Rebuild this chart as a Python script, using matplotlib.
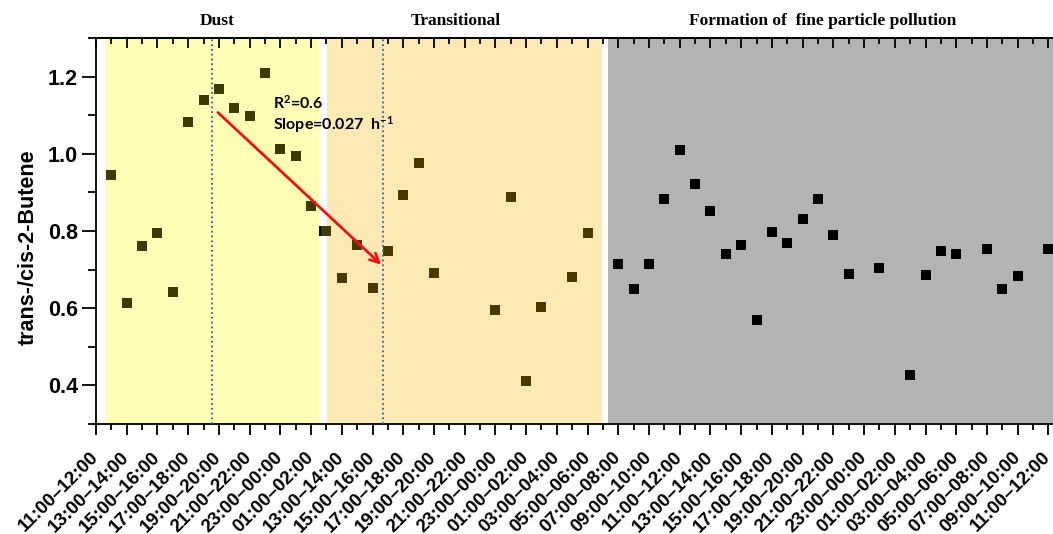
import numpy as np
import matplotlib.pyplot as plt
from matplotlib.ticker import MultipleLocator

plt.rcParams['font.family'] = ['Liberation Sans', 'DejaVu Sans']
plt.rcParams['mathtext.default'] = 'regular'

# ------------------------------
# data (x = hour index along the axis)
# ------------------------------
dust_x = [1, 2, 3, 4, 5, 6, 7, 8, 9, 10, 11, 12, 13, 14, 15]
dust_y = [0.945, 0.613, 0.760, 0.794, 0.641, 1.083, 1.140, 1.169, 1.119,
          1.099, 1.210, 1.012, 0.995, 0.866, 0.801]

trans_x = [16, 17, 18, 19, 20, 21, 22, 26, 27, 28, 29, 31, 32]
trans_y = [0.678, 0.764, 0.652, 0.747, 0.892, 0.977, 0.691, 0.596, 0.889,
           0.411, 0.603, 0.681, 0.795]

fine_x = [14.85, 34, 35, 36, 37, 38, 39, 40, 41, 42, 43, 44, 45, 46, 47, 48, 49,
          51, 53, 54, 55, 56, 58, 59, 60, 62]
fine_y = [0.801, 0.715, 0.649, 0.715, 0.884, 1.011, 0.923, 0.851, 0.740, 0.765,
          0.569, 0.798, 0.768, 0.831, 0.884, 0.789, 0.689, 0.703, 0.427,
          0.686, 0.747, 0.741, 0.754, 0.649, 0.683, 0.754]

tick_labels = ['11:00–12:00', '13:00–14:00', '15:00–16:00', '17:00–18:00',
               '19:00–20:00', '21:00–22:00', '23:00–00:00', '01:00–02:00',
               '13:00–14:00', '15:00–16:00', '17:00–18:00', '19:00–20:00',
               '21:00–22:00', '23:00–00:00', '01:00–02:00', '03:00–04:00',
               '05:00–06:00', '07:00–08:00', '09:00–10:00', '11:00–12:00',
               '13:00–14:00', '15:00–16:00', '17:00–18:00', '19:00–20:00',
               '21:00–22:00', '23:00–00:00', '01:00–02:00', '03:00–04:00',
               '05:00–06:00', '07:00–08:00', '09:00–10:00', '11:00–12:00']

# periods: name, start, end, colour
periods = ['Dust', 'Transitional', 'Formation of  fine particle pollution']
period_start = [0.59, 15.04, 33.34]
period_end = [14.54, 32.91, 62.3]
period_color = ['#ffffb5', '#fde9b3', '#b3b3b3']
period_label_x = [7.9, 23.4, 47.3]

# linear decrease (fit)
fit_start = (7.8, 1.112)
fit_end = (18.7, 0.708)
fit_bounds = [7.55, 18.66]

# ------------------------------
# figure
# ------------------------------
fig = plt.figure(figsize=(10.53, 5.34), dpi=100)
ax = fig.add_axes([96 / 1053, 1 - 424 / 534, 957 / 1053, 386 / 534])

for s, e, c in zip(period_start, period_end, period_color):
    ax.axvspan(s, e, color=c, lw=0, zorder=0)

ax.scatter(fine_x, fine_y, marker='s', s=52, color='black', zorder=3, lw=0)
ax.scatter(dust_x, dust_y, marker='s', s=52, color='#3d3b00', zorder=4, lw=0)
ax.scatter(trans_x, trans_y, marker='s', s=52, color='#4a3800', zorder=4, lw=0)

for xb in fit_bounds:
    ax.axvline(xb, color='#3b5b9b', ls=':', lw=1.3, zorder=6)

ax.annotate('', xy=fit_end, xytext=fit_start,
            arrowprops=dict(arrowstyle='->', color='#ee1111', lw=2,
                            mutation_scale=16), zorder=5)

ax.text(11.5, 1.116, 'R$^2$=0.6', fontsize=11.5, fontweight='bold',
        family=['Lato', 'DejaVu Sans'], va='baseline', zorder=7)
ax.text(11.5, 1.062, 'Slope=0.027  h$^{-1}$', fontsize=11.5, fontweight='bold',
        family=['Lato', 'DejaVu Sans'], va='baseline', zorder=5)

for name, xc in zip(periods, period_label_x):
    ax.text(xc, 1.044, name, transform=ax.get_xaxis_transform(),
            ha='center', va='center', fontsize=12.5, fontweight='bold',
            family=['Liberation Serif', 'DejaVu Serif'])

ax.set_xlim(0, 62.3)
ax.set_ylim(0.3, 1.3)

ax.set_xticks(np.arange(0, 63, 2))
ax.set_xticklabels(tick_labels, rotation=45, ha='right', va='center',
                   rotation_mode='anchor', fontsize=13.5, fontweight='bold')
ax.xaxis.set_minor_locator(MultipleLocator(1))
ax.yaxis.set_minor_locator(MultipleLocator(0.1))
ax.set_yticks([0.4, 0.6, 0.8, 1.0, 1.2])
for lab in ax.get_yticklabels():
    lab.set_fontweight('bold')
    lab.set_fontsize(15.5)

ax.tick_params(axis='x', which='major', direction='out', length=8, width=1.3, pad=14)
ax.tick_params(axis='x', which='minor', direction='out', length=4.5, width=1.3)
ax.tick_params(axis='y', which='major', direction='out', length=10, width=1.3, pad=3)
ax.tick_params(axis='y', which='minor', direction='out', length=6, width=1.3)

top = ax.secondary_xaxis('top')
top.set_xticks(np.arange(0, 63, 2))
top.xaxis.set_minor_locator(MultipleLocator(1))
top.tick_params(axis='x', which='major', direction='in', length=7, width=1.3, labeltop=False)
top.tick_params(axis='x', which='minor', direction='in', length=4, width=1.3)
top.spines['top'].set_linewidth(1.3)

for sp in ['left', 'bottom', 'top']:
    ax.spines[sp].set_linewidth(1.3)
ax.spines['right'].set_visible(False)

ax.set_ylabel('trans-/cis-2-Butene', fontsize=15.5, fontweight='bold')
ax.yaxis.set_label_coords(-0.071, 0.457)
ax.yaxis.label.set_va('center')

fig.savefig('out.png', dpi=100)
